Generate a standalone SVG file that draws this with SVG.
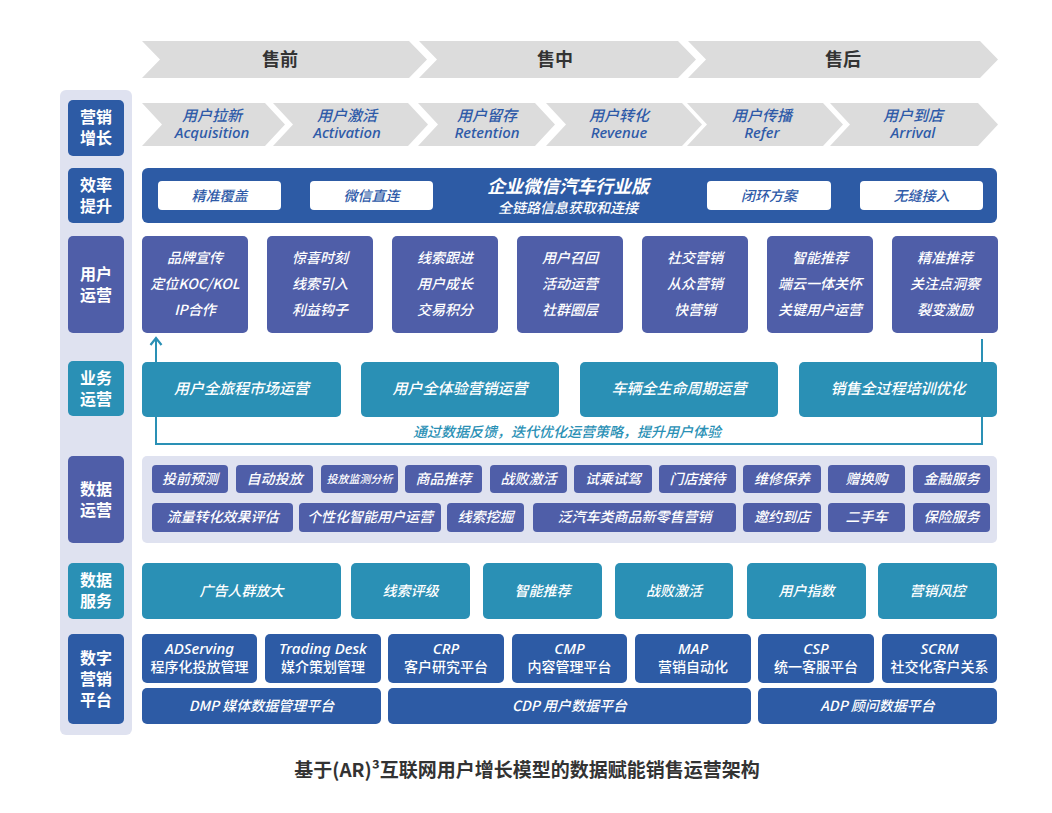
<svg xmlns="http://www.w3.org/2000/svg" width="1052" height="813" viewBox="0 0 1052 813">
<style>
text{font-family:"Noto Sans CJK SC","Noto Sans",sans-serif;text-anchor:middle}
.chev{fill:#dcdcdc}
.phase{font-size:18px;font-weight:bold;fill:#333}
.stage{font-size:15px;font-style:italic;fill:#2e5aa8;font-weight:500}
.stageEn{font-size:15px;font-style:italic;fill:#2e5aa8;font-family:"Noto Sans","Liberation Sans",sans-serif;font-weight:500}
.side{font-size:16px;font-weight:bold;fill:#fff}
.blue{fill:#2d5ba5}
.indigo{fill:#4f5ea8}
.teal{fill:#2a90b5}
.panel{fill:#dfe2f0}
.w{fill:#fff;font-size:14px;font-style:italic;font-weight:500}
.w15{fill:#fff;font-size:15px;font-style:italic;font-weight:500}
.up{font-style:normal}
.sm{font-size:11px}
.pill{fill:#2e5aa8;font-size:14px;font-style:italic;font-weight:500}
.en{font-family:"Noto Sans","Liberation Sans",sans-serif;font-style:italic}
.loop{fill:none;stroke:#2a90b5;stroke-width:2}
</style>
<defs>
<marker id="arr" viewBox="0 0 14 14" refX="10" refY="7" markerWidth="14" markerHeight="14" markerUnits="userSpaceOnUse" orient="auto">
<path d="M3,1.5 L10,7 L3,12.5" fill="none" stroke="#2a90b5" stroke-width="2.2"/>
</marker>
</defs>

<!-- sidebar -->
<rect class="panel" x="60" y="90" width="72" height="645" rx="6"/>
<g id="side-yingxiao"><rect class="blue" x="68" y="100" width="56" height="56" rx="5"/><text class="side" x="96" y="123">营销</text><text class="side" x="96" y="144">增长</text></g>
<g id="side-xiaolv"><rect class="blue" x="68" y="168" width="56" height="55" rx="5"/><text class="side" x="96" y="191">效率</text><text class="side" x="96" y="212">提升</text></g>
<g id="side-yonghu"><rect class="indigo" x="68" y="236" width="56" height="97" rx="5"/><text class="side" x="96" y="280">用户</text><text class="side" x="96" y="301">运营</text></g>
<g id="side-yewu"><rect class="teal" x="68" y="361" width="56" height="55" rx="5"/><text class="side" x="96" y="384">业务</text><text class="side" x="96" y="405">运营</text></g>
<g id="side-shujuyy"><rect class="indigo" x="68" y="456" width="56" height="87" rx="5"/><text class="side" x="96" y="495">数据</text><text class="side" x="96" y="516">运营</text></g>
<g id="side-shujufw"><rect class="teal" x="68" y="563" width="56" height="56" rx="5"/><text class="side" x="96" y="586">数据</text><text class="side" x="96" y="607">服务</text></g>
<g id="side-shuzi"><rect class="blue" x="68" y="634" width="56" height="90" rx="5"/><text class="side" x="96" y="664">数字</text><text class="side" x="96" y="685">营销</text><text class="side" x="96" y="706">平台</text></g>

<!-- phases -->
<g id="phase-shouqian"><polygon class="chev" points="142,41 409,41 427,59.5 409,78 142,78 160,59.5"/><text class="phase" x="280" y="66">售前</text></g>
<g id="phase-shouzhong"><polygon class="chev" points="419,41 678,41 696,59.5 678,78 419,78 437,59.5"/><text class="phase" x="555" y="66">售中</text></g>
<g id="phase-shouhou"><polygon class="chev" points="688,41 980,41 998,59.5 980,78 688,78 706,59.5"/><text class="phase" x="843" y="66">售后</text></g>

<!-- stages -->
<g id="stage-1"><polygon class="chev" points="142,103 265,103 285,124.5 265,146 142,146 162,124.5"/><text class="stage" x="212" y="121">用户拉新</text><text class="stageEn" x="212" y="138">Acquisition</text></g>
<g id="stage-2"><polygon class="chev" points="273,103 408,103 428,124.5 408,146 273,146 293,124.5"/><text class="stage" x="347" y="121">用户激活</text><text class="stageEn" x="347" y="138">Activation</text></g>
<g id="stage-3"><polygon class="chev" points="418,103 535,103 555,124.5 535,146 418,146 438,124.5"/><text class="stage" x="487" y="121">用户留存</text><text class="stageEn" x="487" y="138">Retention</text></g>
<g id="stage-4"><polygon class="chev" points="546,103 682,103 702,124.5 682,146 546,146 566,124.5"/><text class="stage" x="619" y="121">用户转化</text><text class="stageEn" x="619" y="138">Revenue</text></g>
<g id="stage-5"><polygon class="chev" points="687,103 823,103 843,124.5 823,146 687,146 707,124.5"/><text class="stage" x="762" y="121">用户传播</text><text class="stageEn" x="762" y="138">Refer</text></g>
<g id="stage-6"><polygon class="chev" points="830,103 978,103 998,124.5 978,146 830,146 850,124.5"/><text class="stage" x="913" y="121">用户到店</text><text class="stageEn" x="913" y="138">Arrival</text></g>

<!-- efficiency bar -->
<g id="qywx">
<rect class="blue" x="142" y="168" width="855" height="55" rx="6"/>
<rect fill="#fff" x="158" y="181" width="123" height="29" rx="4"/><text class="pill" x="219.5" y="200.5">精准覆盖</text>
<rect fill="#fff" x="310" y="181" width="123" height="29" rx="4"/><text class="pill" x="371.5" y="200.5">微信直连</text>
<rect fill="#fff" x="707" y="181" width="124" height="29" rx="4"/><text class="pill" x="769" y="200.5">闭环方案</text>
<rect fill="#fff" x="860" y="181" width="123" height="29" rx="4"/><text class="pill" x="921.5" y="200.5">无缝接入</text>
<text fill="#fff" font-size="18" font-weight="bold" font-style="italic" x="568" y="193">企业微信汽车行业版</text>
<text fill="#fff" font-size="14" font-weight="500" font-style="italic" x="568" y="213">全链路信息获取和连接</text>
</g>

<!-- user operation -->
<g id="uo-1"><rect class="indigo" x="142" y="236" width="106" height="97" rx="5"/><text class="w" x="195" y="263">品牌宣传</text><text class="w" x="195" y="289">定位KOC/KOL</text><text class="w" x="195" y="315">IP合作</text></g>
<g id="uo-2"><rect class="indigo" x="267" y="236" width="106" height="97" rx="5"/><text class="w" x="320" y="263">惊喜时刻</text><text class="w" x="320" y="289">线索引入</text><text class="w" x="320" y="315">利益钩子</text></g>
<g id="uo-3"><rect class="indigo" x="392" y="236" width="106" height="97" rx="5"/><text class="w" x="445" y="263">线索跟进</text><text class="w" x="445" y="289">用户成长</text><text class="w" x="445" y="315">交易积分</text></g>
<g id="uo-4"><rect class="indigo" x="517" y="236" width="106" height="97" rx="5"/><text class="w" x="570" y="263">用户召回</text><text class="w" x="570" y="289">活动运营</text><text class="w" x="570" y="315">社群圈层</text></g>
<g id="uo-5"><rect class="indigo" x="642" y="236" width="106" height="97" rx="5"/><text class="w" x="695" y="263">社交营销</text><text class="w" x="695" y="289">从众营销</text><text class="w" x="695" y="315">快营销</text></g>
<g id="uo-6"><rect class="indigo" x="767" y="236" width="106" height="97" rx="5"/><text class="w" x="820" y="263">智能推荐</text><text class="w" x="820" y="289">端云一体关怀</text><text class="w" x="820" y="315">关键用户运营</text></g>
<g id="uo-7"><rect class="indigo" x="892" y="236" width="106" height="97" rx="5"/><text class="w" x="945" y="263">精准推荐</text><text class="w" x="945" y="289">关注点洞察</text><text class="w" x="945" y="315">裂变激励</text></g>

<!-- feedback loop connectors -->
<g id="connectors">
<path class="loop" d="M982,339 L982,444 L156,444 L156,338" marker-end="url(#arr)"/>
<text fill="#2a90b5" font-size="14" font-style="italic" font-weight="500" x="567" y="437">通过数据反馈，迭代优化运营策略，提升用户体验</text>
</g>

<!-- business operation -->
<g id="bo-1"><rect class="teal" x="142" y="362" width="199" height="55" rx="5"/><text class="w15" x="241.5" y="394">用户全旅程市场运营</text></g>
<g id="bo-2"><rect class="teal" x="361" y="362" width="198" height="55" rx="5"/><text class="w15" x="460" y="394">用户全体验营销运营</text></g>
<g id="bo-3"><rect class="teal" x="580" y="362" width="198" height="55" rx="5"/><text class="w15" x="679" y="394">车辆全生命周期运营</text></g>
<g id="bo-4"><rect class="teal" x="799" y="362" width="198" height="55" rx="5"/><text class="w15" x="898" y="394">销售全过程培训优化</text></g>

<!-- data operation -->
<rect class="panel" x="142" y="456" width="855" height="87" rx="5"/>
<g id="do-row1">
<rect class="indigo" x="152" y="465" width="76" height="28" rx="4"/><text class="w" x="190" y="484">投前预测</text>
<rect class="indigo" x="236" y="465" width="77" height="28" rx="4"/><text class="w" x="274.5" y="484">自动投放</text>
<rect class="indigo" x="321" y="465" width="77" height="28" rx="4"/><text class="w sm" x="359.5" y="483">投放监测分析</text>
<rect class="indigo" x="405" y="465" width="77" height="28" rx="4"/><text class="w" x="443.5" y="484">商品推荐</text>
<rect class="indigo" x="490" y="465" width="77" height="28" rx="4"/><text class="w" x="528.5" y="484">战败激活</text>
<rect class="indigo" x="574" y="465" width="78" height="28" rx="4"/><text class="w" x="613" y="484">试乘试驾</text>
<rect class="indigo" x="659" y="465" width="77" height="28" rx="4"/><text class="w" x="697.5" y="484">门店接待</text>
<rect class="indigo" x="743" y="465" width="78" height="28" rx="4"/><text class="w" x="782" y="484">维修保养</text>
<rect class="indigo" x="828" y="465" width="77" height="28" rx="4"/><text class="w" x="866.5" y="484">赠换购</text>
<rect class="indigo" x="913" y="465" width="77" height="28" rx="4"/><text class="w" x="951.5" y="484">金融服务</text>
</g>
<g id="do-row2">
<rect class="indigo" x="152" y="503" width="141" height="29" rx="4"/><text class="w" x="222.5" y="522">流量转化效果评估</text>
<rect class="indigo" x="299" y="503" width="142" height="29" rx="4"/><text class="w" x="370" y="522">个性化智能用户运营</text>
<rect class="indigo" x="447" y="503" width="77" height="29" rx="4"/><text class="w" x="485.5" y="522">线索挖掘</text>
<rect class="indigo" x="533" y="503" width="203" height="29" rx="4"/><text class="w" x="634.5" y="522">泛汽车类商品新零售营销</text>
<rect class="indigo" x="743" y="503" width="78" height="29" rx="4"/><text class="w" x="782" y="522">邀约到店</text>
<rect class="indigo" x="828" y="503" width="77" height="29" rx="4"/><text class="w" x="866.5" y="522">二手车</text>
<rect class="indigo" x="913" y="503" width="77" height="29" rx="4"/><text class="w" x="951.5" y="522">保险服务</text>
</g>

<!-- data service -->
<g id="ds-1"><rect class="teal" x="142" y="563" width="199" height="56" rx="5"/><text class="w" x="241.5" y="596">广告人群放大</text></g>
<g id="ds-2"><rect class="teal" x="351" y="563" width="119" height="56" rx="5"/><text class="w" x="410.5" y="596">线索评级</text></g>
<g id="ds-3"><rect class="teal" x="483" y="563" width="119" height="56" rx="5"/><text class="w" x="542.5" y="596">智能推荐</text></g>
<g id="ds-4"><rect class="teal" x="615" y="563" width="118" height="56" rx="5"/><text class="w" x="674" y="596">战败激活</text></g>
<g id="ds-5"><rect class="teal" x="747" y="563" width="119" height="56" rx="5"/><text class="w" x="806.5" y="596">用户指数</text></g>
<g id="ds-6"><rect class="teal" x="878" y="563" width="119" height="56" rx="5"/><text class="w" x="937.5" y="596">营销风控</text></g>

<!-- digital marketing platform -->
<g id="dp-1"><rect class="blue" x="142" y="634" width="115" height="49" rx="5"/><text class="w15 en" x="199.5" y="654">ADServing</text><text class="w up" x="199.5" y="672">程序化投放管理</text></g>
<g id="dp-2"><rect class="blue" x="265" y="634" width="116" height="49" rx="5"/><text class="w15 en" x="323" y="654">Trading Desk</text><text class="w up" x="323" y="672">媒介策划管理</text></g>
<g id="dp-3"><rect class="blue" x="388" y="634" width="116" height="49" rx="5"/><text class="w15 en" x="446" y="654">CRP</text><text class="w up" x="446" y="672">客户研究平台</text></g>
<g id="dp-4"><rect class="blue" x="512" y="634" width="115" height="49" rx="5"/><text class="w15 en" x="569.5" y="654">CMP</text><text class="w up" x="569.5" y="672">内容管理平台</text></g>
<g id="dp-5"><rect class="blue" x="635" y="634" width="116" height="49" rx="5"/><text class="w15 en" x="693" y="654">MAP</text><text class="w up" x="693" y="672">营销自动化</text></g>
<g id="dp-6"><rect class="blue" x="758" y="634" width="116" height="49" rx="5"/><text class="w15 en" x="816" y="654">CSP</text><text class="w up" x="816" y="672">统一客服平台</text></g>
<g id="dp-7"><rect class="blue" x="882" y="634" width="115" height="49" rx="5"/><text class="w15 en" x="939.5" y="654">SCRM</text><text class="w up" x="939.5" y="672">社交化客户关系</text></g>
<g id="dp-dmp"><rect class="blue" x="142" y="688" width="239" height="36" rx="5"/><text class="w" x="261.5" y="711">DMP 媒体数据管理平台</text></g>
<g id="dp-cdp"><rect class="blue" x="388" y="688" width="363" height="36" rx="5"/><text class="w" x="569.5" y="711">CDP 用户数据平台</text></g>
<g id="dp-adp"><rect class="blue" x="758" y="688" width="239" height="36" rx="5"/><text class="w" x="877.5" y="711">ADP 顾问数据平台</text></g>

<text x="527" y="777" font-size="19" font-weight="bold" fill="#333">基于(AR)³互联网用户增长模型的数据赋能销售运营架构</text>
</svg>
